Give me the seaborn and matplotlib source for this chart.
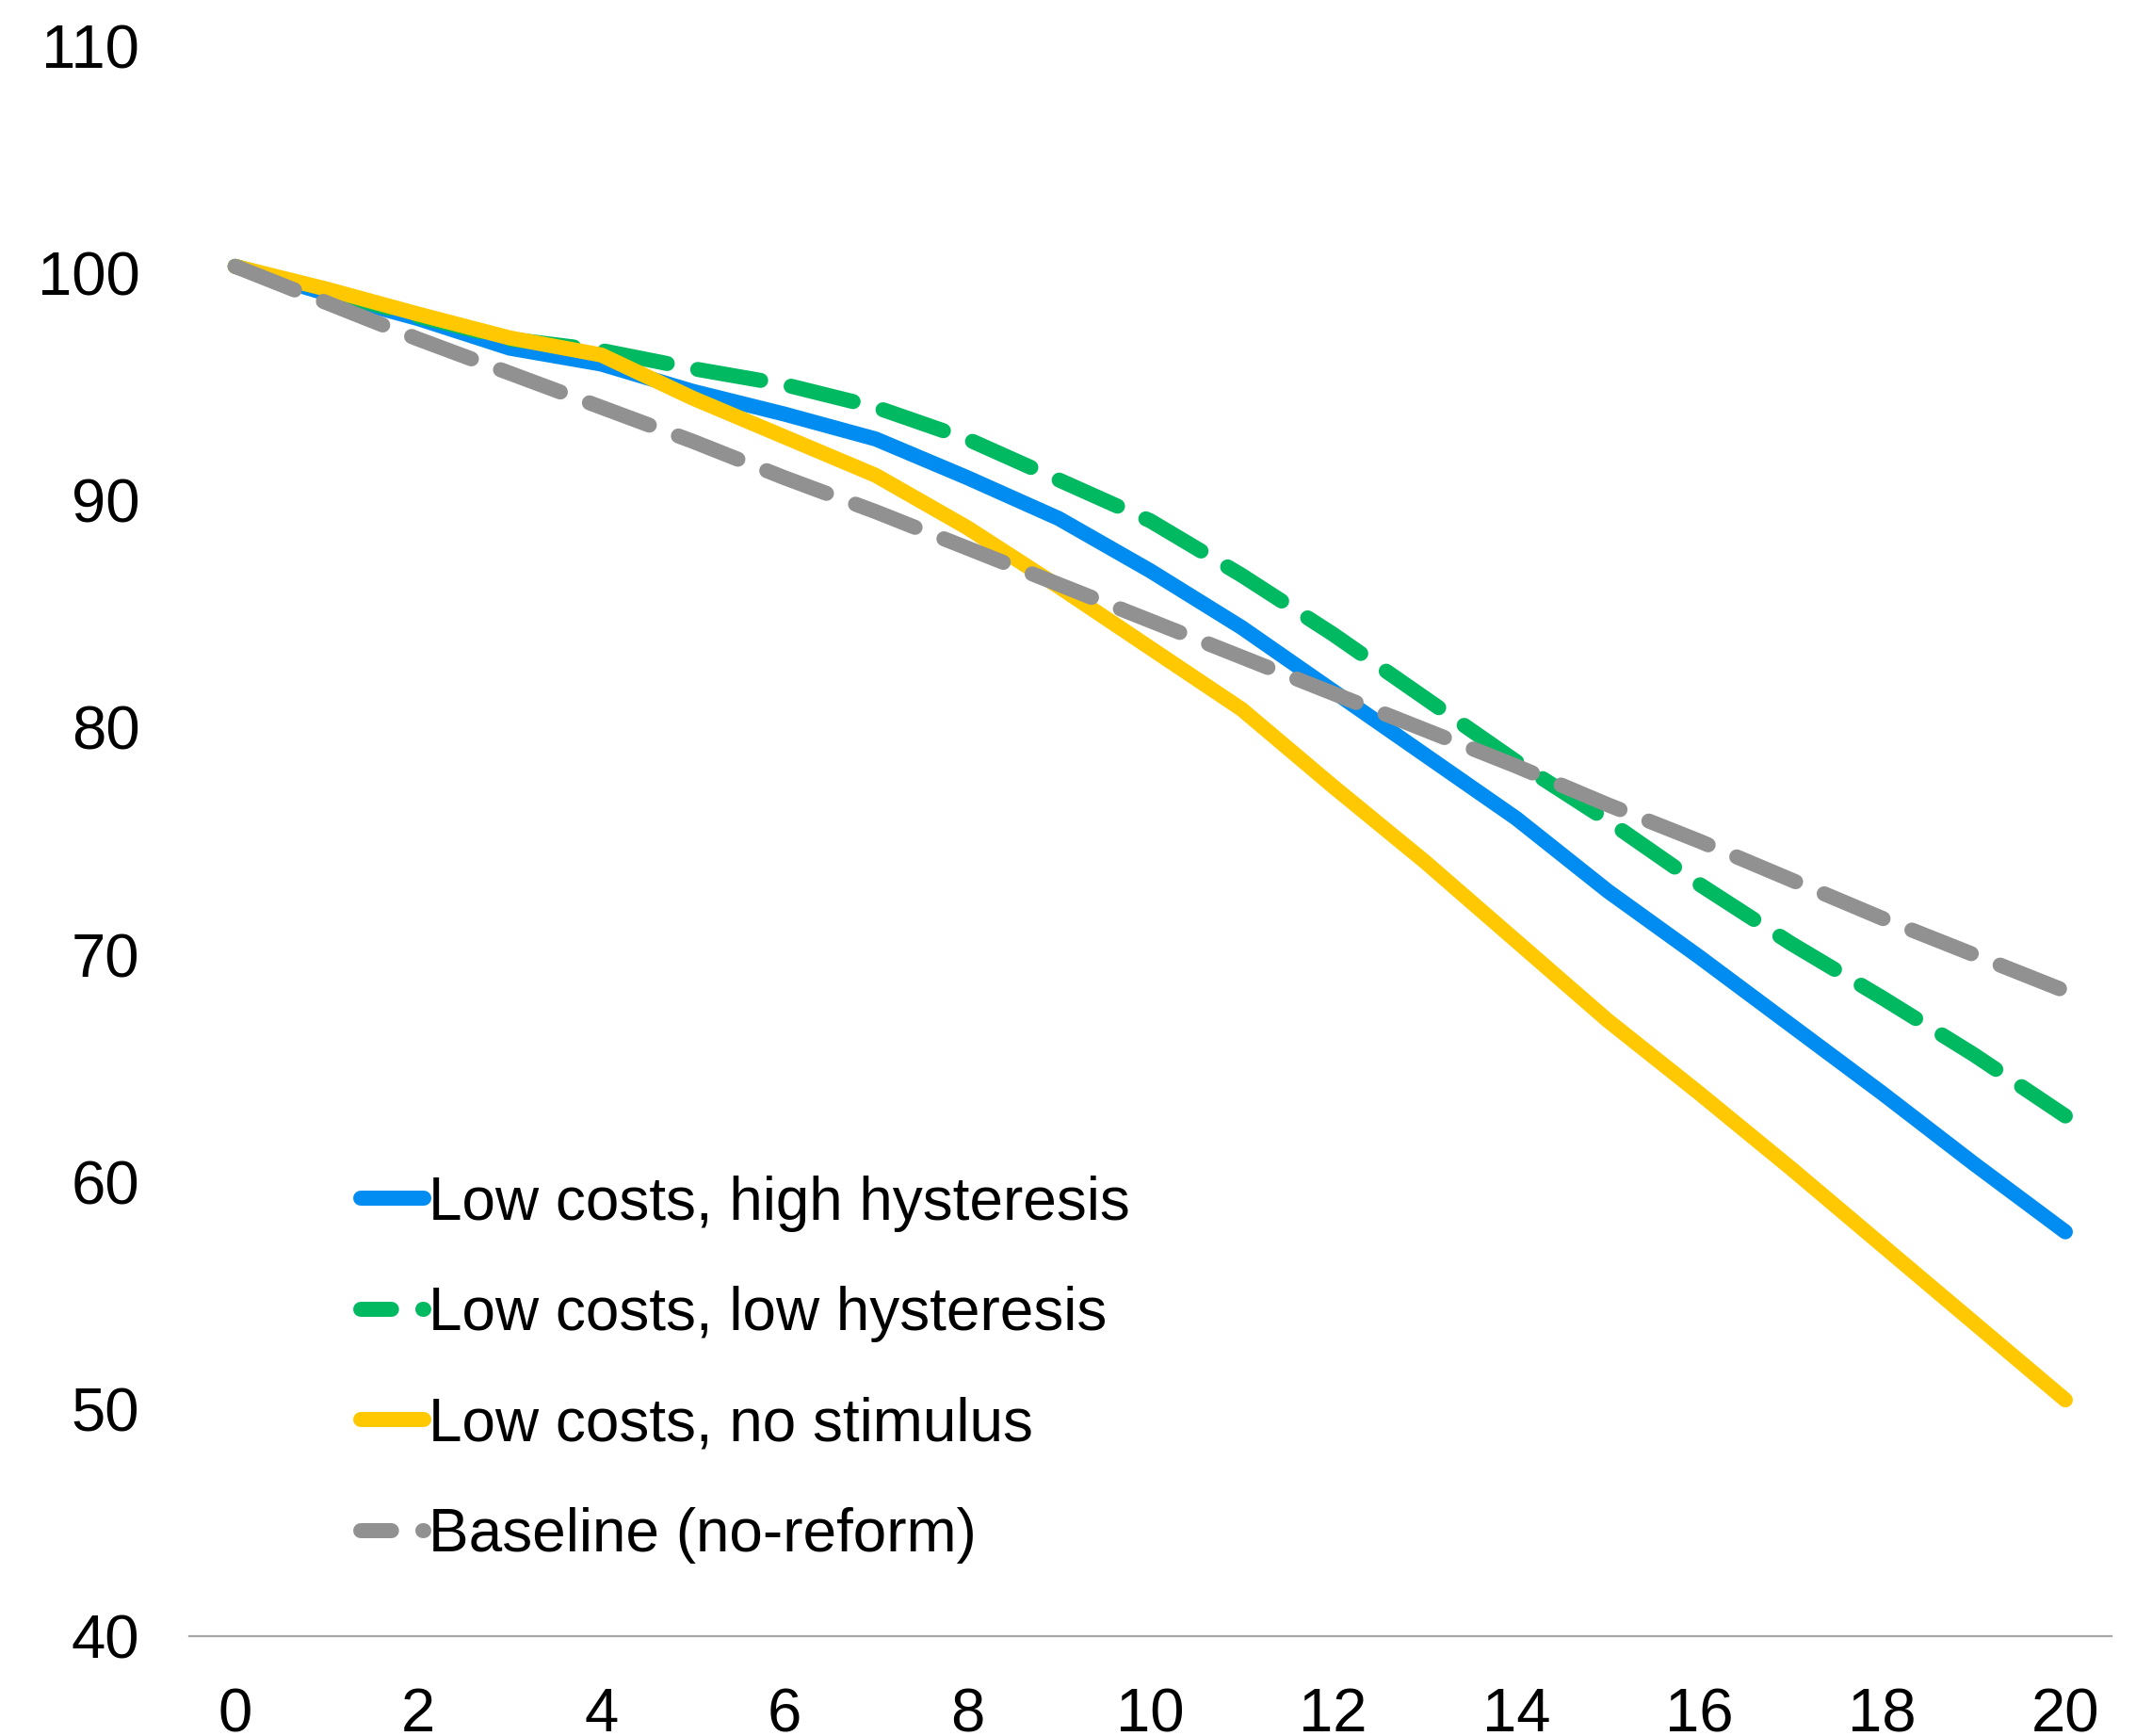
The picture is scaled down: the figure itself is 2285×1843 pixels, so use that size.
import matplotlib
matplotlib.use("Agg")
import matplotlib.pyplot as plt
import seaborn as sns
import pandas as pd

# Years since reform
years = list(range(0, 21))

# Index level (year 0 = 100) for each scenario
high_hysteresis = [100.3, 99.1, 98.0, 96.7, 96.0, 94.8, 93.8, 92.7, 91.0, 89.2,
                   86.9, 84.4, 81.6, 78.8, 76.0, 72.8, 69.9, 66.9, 63.9, 60.8, 57.8]
low_hysteresis = [100.3, 99.2, 98.1, 97.1, 96.6, 95.8, 95.1, 94.1, 92.7, 90.9,
                  89.1, 86.7, 84.1, 81.3, 78.5, 75.9, 73.1, 70.5, 68.1, 65.6, 62.9]
no_stimulus = [100.3, 99.3, 98.2, 97.15, 96.4, 94.5, 92.8, 91.1, 88.8, 86.2,
               83.5, 80.8, 77.4, 74.1, 70.6, 67.1, 63.9, 60.6, 57.2, 53.8, 50.4]
baseline = [100.3, 98.7, 97.1, 95.6, 94.1, 92.6, 91.0, 89.5, 87.9, 86.3,
            84.7, 83.1, 81.5, 79.9, 78.3, 76.6, 75.0, 73.3, 71.6, 70.0, 68.4]

labels = ["Low costs, high hysteresis", "Low costs, low hysteresis",
          "Low costs, no stimulus", "Baseline (no-reform)"]
colors = ["#008CF0", "#00B960", "#FFC800", "#919191"]
dashed = [False, True, False, True]

x_ticks = list(range(0, 21, 2))
y_ticks = list(range(40, 111, 10))

LW = 11.5
PLOT_DASH = (4.25, 2.06)
LEGEND_DASH = (2.05, 2.08)

sns.set_theme(style="white")
plt.rcParams["font.family"] = ["Liberation Sans", "DejaVu Sans"]
plt.rcParams["text.color"] = "black"

fig = plt.figure(figsize=(22.85, 18.43), dpi=100)
ax = fig.add_axes([0.088, 0.0575, 0.893, 0.916])

series = [high_hysteresis, low_hysteresis, no_stimulus, baseline]
for vals, lab, col, dsh in zip(series, labels, colors, dashed):
    df = pd.DataFrame({"year": years, "value": vals})
    sns.lineplot(data=df, x="year", y="value", ax=ax, color=col, linewidth=LW,
                 label=lab)
    line = ax.get_lines()[-1]
    line.set_linewidth(LW)
    line.set_solid_capstyle("round")
    line.set_solid_joinstyle("round")
    line.set_dash_joinstyle("round")
    if dsh:
        line.set_dashes(PLOT_DASH)
        line.set_dash_capstyle("round")

ax.set_xlim(-0.5, 20.5)
ax.set_ylim(40, 110)
ax.set_xticks(x_ticks)
ax.set_yticks(y_ticks)
ax.set_xlabel("")
ax.set_ylabel("")
ax.tick_params(axis="both", length=0, labelsize=47, colors="black")
ax.tick_params(axis="y", pad=38)
ax.tick_params(axis="x", pad=39)

for side in ["left", "right", "top"]:
    ax.spines[side].set_visible(False)
ax.spines["bottom"].set_color("#A6A6A6")
ax.spines["bottom"].set_linewidth(1.6)
ax.grid(False)

handles, leg_labels = ax.get_legend_handles_labels()
leg = ax.legend(handles, leg_labels, loc="lower left",
                bbox_to_anchor=(0.0892, 0.0455), borderaxespad=0, borderpad=0,
                frameon=False, fontsize=46, handlelength=1.05,
                handletextpad=0.08, labelspacing=0.90)
for h, dsh in zip(leg.get_lines(), dashed):
    h.set_linewidth(LW)
    h.set_solid_capstyle("round")
    h.set_dash_capstyle("round")
    if dsh:
        h.set_dashes(LEGEND_DASH)
for t in leg.get_texts():
    t.set_color("black")

fig.savefig("out.png", dpi=100)
